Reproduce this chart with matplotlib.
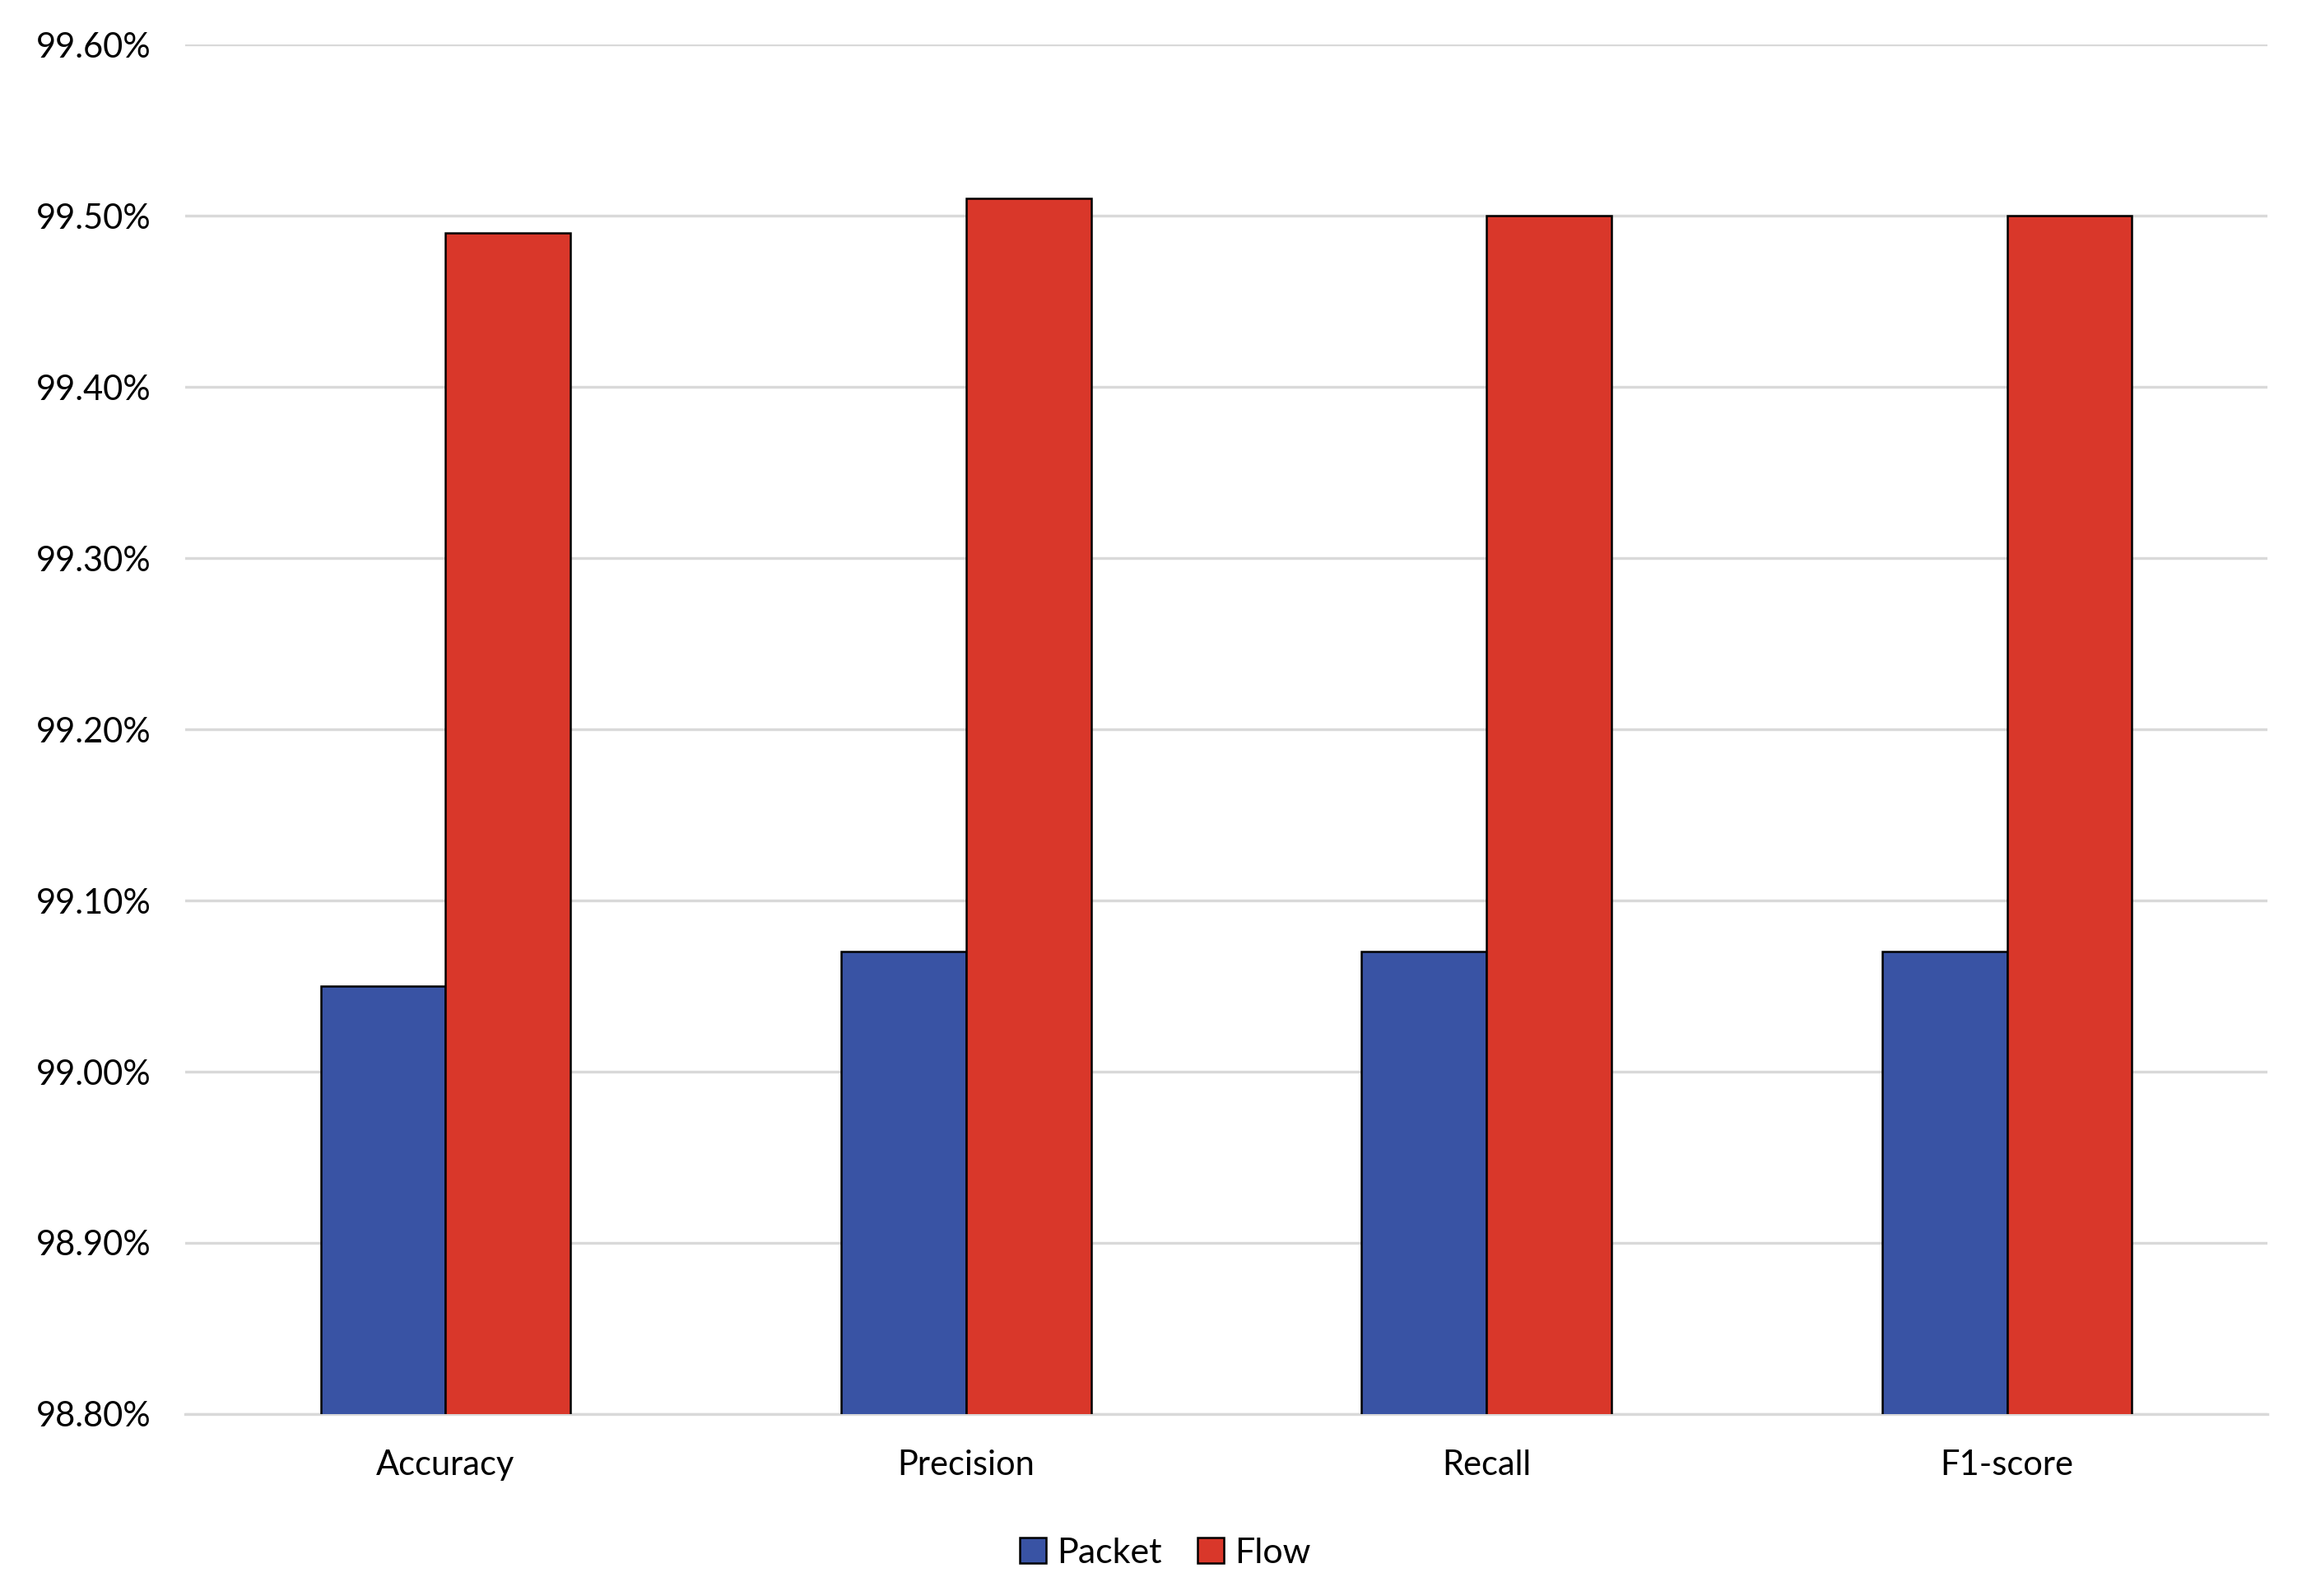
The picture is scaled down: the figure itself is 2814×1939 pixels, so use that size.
import matplotlib.pyplot as plt
import numpy as np
from matplotlib.ticker import FuncFormatter

categories = ['Accuracy', 'Precision', 'Recall', 'F1-score']
packet = [99.05, 99.07, 99.07, 99.07]
flow = [99.49, 99.51, 99.50, 99.50]
yticks = [98.8, 98.9, 99.0, 99.1, 99.2, 99.3, 99.4, 99.5, 99.6]

plt.rcParams['font.family'] = ['Lato', 'DejaVu Sans']

fig = plt.figure(figsize=(28.14, 19.39), dpi=100)
ax = fig.add_axes([0.080, 0.114, 0.899, 0.858])

x = np.arange(len(categories))
w = 0.24
ax.bar(x - w / 2, packet, w, color='#3953A4', edgecolor='black', linewidth=1.8,
       label='Packet', zorder=3)
ax.bar(x + w / 2, flow, w, color='#D9372A', edgecolor='black', linewidth=1.8,
       label='Flow', zorder=3)

ax.set_xlim(-0.5, len(categories) - 0.5)
ax.set_ylim(98.8, 99.6)
ax.set_yticks(yticks)
ax.yaxis.set_major_formatter(FuncFormatter(lambda v, p: f'{v:.2f}%'))
ax.set_xticks(x)
ax.set_xticklabels(categories)
ax.tick_params(axis='both', length=0, labelsize=30)
ax.tick_params(axis='y', pad=30)
ax.tick_params(axis='x', pad=31)

ax.grid(axis='y', color='#D9D9D9', linewidth=2.4, zorder=0)
for s in ['top', 'right', 'left']:
    ax.spines[s].set_visible(False)
ax.spines['bottom'].set_color('#D9D9D9')
ax.spines['bottom'].set_linewidth(2.4)

fig.legend(loc='center', bbox_to_anchor=(0.503, 0.027), ncol=2, frameon=False,
           fontsize=31, handlelength=0.75, handleheight=0.75, handletextpad=0.3,
           columnspacing=1.0)

fig.savefig('out.png', dpi=100)
